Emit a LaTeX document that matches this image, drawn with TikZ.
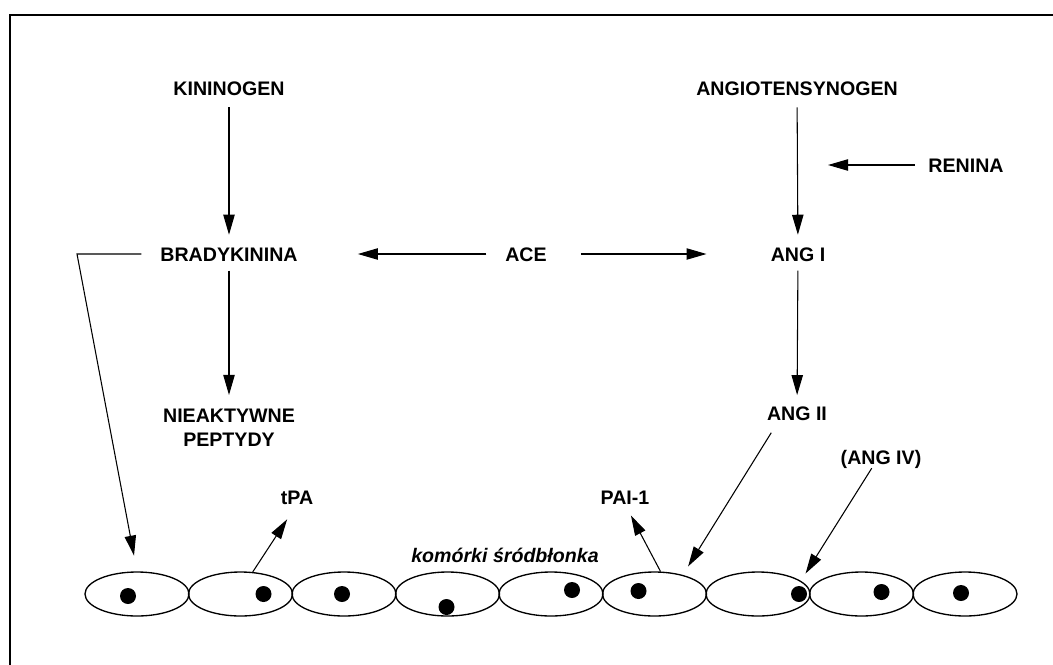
\documentclass[tikz,border=0pt]{standalone}
\usepackage{fontspec}
\setmainfont{Liberation Sans}
\usetikzlibrary{arrows.meta}
\usetikzlibrary{shapes.geometric}

\begin{document}
\begin{tikzpicture}[x=0.75pt,y=-0.75pt,>={Triangle[length=15pt,width=8.5pt]},
    lbl/.style={inner sep=0pt,text height=10.5pt,text depth=0pt,font=\fontsize{14.7}{18}\selectfont\bfseries},
    cell/.style={draw,line width=1pt,ellipse,minimum width=78pt,minimum height=33pt,inner sep=0pt},
    conn/.style={->,line width=0.8pt}]
    \useasboundingbox (0,0) rectangle (1053,664);
    \draw[line width=2pt] (10,690) -- (10,15) -- (1080,15);

    \node[lbl] (kin) at (229,88) {KININOGEN};
    \node[lbl] (ang) at (797,88) {ANGIOTENSYNOGEN};
    \node[lbl] (ren) at (966,165) {RENINA};
    \node[lbl] (brad) at (229,254) {BRADYKININA};
    \node[lbl] (ace) at (526,254) {ACE};
    \node[lbl] (angI) at (798,254) {ANG I};
    \node[inner sep=0pt,align=center,font=\fontsize{14.7}{18}\selectfont\bfseries] (nieakt) at (229,428) {NIEAKTYWNE\\PEPTYDY};
    \node[lbl] (angII) at (797,413) {ANG II};
    \node[lbl] (angIV) at (881,457) {(ANG IV)};
    \node[lbl] (pai) at (625,497) {PAI-1};
    \node[lbl] (tpa) at (297,497) {tPA};
    \node[lbl,font=\fontsize{14.7}{18}\selectfont\bfseries\itshape] (kom) at (505,555) {komórki śródbłonka};

    \foreach \i in {1,...,9}
        \node[cell] (c\i) at ({137+(\i-1)*103.5},594) {};
    \foreach \i/\dx/\dy in {1/-9/2,2/23/0,3/-2/0,4/-1/13,5/21/-4,6/-16/-3,7/41/0,8/20/-2,9/-4/-1}
        \fill ([shift={(\dx,\dy)}]c\i) circle (6pt);

    \coordinate (renend) at (828,165);
    \coordinate (bend) at (77,254);

    \draw[conn,shorten <=9pt,shorten >=9pt] (kin) -- (brad);
    \draw[conn,shorten <=7pt,shorten >=10.5pt] (brad) -- (nieakt);
    \draw[conn,shorten <=9pt,shorten >=9pt] (ang) -- (angI);
    \draw[conn,shorten <=7pt,shorten >=8pt] (angI) -- (angII);
    \draw[conn,shorten <=10pt] (ren) -- (renend);
    \draw[conn,shorten <=14pt,shorten >=45pt] (ace.west) -- (brad.east);
    \draw[conn,shorten <=25.5pt,shorten >=48pt] (ace.east) -- (angI.west);
    \draw[conn,shorten <=14pt,shorten >=12pt] (brad.west) -- (bend) -- (c1.north);
    \draw[conn,shorten >=13.5pt] (c2.61) -- (tpa.south);
    \draw[conn,shorten >=9.5pt] (c6.75) -- (pai.south);
    \draw[conn,shorten <=11pt,shorten >=7.5pt] (angII.-158) -- (c6.34);
    \draw[conn,shorten <=3.5pt,shorten >=6.5pt] (angIV.-133) -- (c7.17);
\end{tikzpicture}
\end{document}
